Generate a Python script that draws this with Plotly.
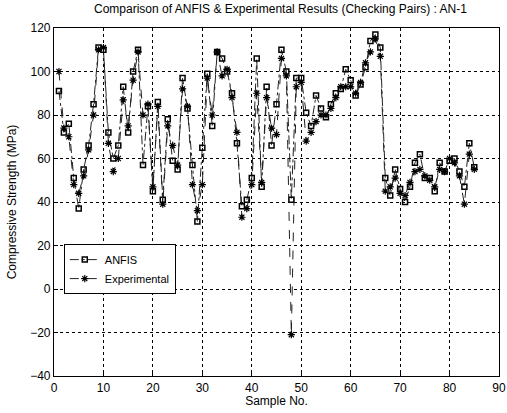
import plotly.graph_objects as go

samples = list(range(1, 86))
anfis = [91, 72, 76, 51, 37, 55, 66, 85, 111, 110,
         72, 60, 66, 93, 72, 100, 110, 57, 84, 45,
         86, 41, 78, 59, 55, 97, 83, 57, 31, 65,
         99, 75, 109, 106, 100, 90, 67, 38, 41, 51,
         106, 47, 93, 66, 85, 110, 100, 41, 97, 97,
         81, 75, 89, 83, 79, 85, 90, 92, 101, 96,
         89, 94, 102, 114, 117, 111, 51, 43, 55, 46,
         40, 47, 58, 62, 51, 51, 45, 58, 54, 59,
         60, 54, 47, 67, 56]
experimental = [100, 74, 70, 48, 44, 52, 64, 80, 110, 111,
                67, 54, 60, 87, 75, 96, 109, 80, 85, 47,
                84, 39, 75, 66, 57, 92, 84, 48, 36, 48,
                97, 80, 109, 98, 101, 88, 72, 33, 37, 48,
                90, 49, 88, 74, 71, 106, 98, -21, 93, 95,
                68, 72, 77, 80, 80, 83, 88, 93, 93, 93,
                90, 95, 104, 109, 115, 107, 45, 47, 51, 44,
                43, 49, 54, 55, 52, 50, 47, 55, 54, 60,
                58, 52, 39, 62, 55]

x_ticks = list(range(0, 91, 10))
y_ticks = list(range(-40, 121, 20))

FONT = "Liberation Sans, Arial, sans-serif"
TITLE = "Comparison of ANFIS & Experimental Results (Checking Pairs) : AN-1"

fig = go.Figure()
fig.add_trace(go.Scatter(
    x=samples, y=anfis, name="ANFIS", mode="lines+markers",
    line=dict(color="#222222", width=1, dash="dashdot"),
    marker=dict(symbol="square-open", size=5, color="black", line=dict(width=1.5, color="black")),
))
fig.add_trace(go.Scatter(
    x=samples, y=experimental, name="Experimental", mode="lines+markers",
    line=dict(color="#222222", width=1, dash="dash"),
    marker=dict(symbol="asterisk-open", size=6, color="black", line=dict(width=1.2, color="black")),
))

axis_common = dict(
    showline=True, linecolor="black", linewidth=1.2, mirror=True,
    showgrid=True, gridcolor="black", gridwidth=1, griddash="3px,3px",
    ticks="inside", ticklen=4, tickcolor="black",
    zeroline=False, automargin=False,
    tickfont=dict(family=FONT, size=12, color="black"),
)

fig.update_layout(
    width=507, height=413,
    margin=dict(l=54, r=8, t=28, b=37),
    paper_bgcolor="white", plot_bgcolor="white",
    font=dict(family=FONT, size=12, color="black"),
    xaxis=dict(range=[0, 90], tickvals=x_ticks,
               title=dict(text="Sample No.", standoff=3, font=dict(family=FONT, size=12)),
               **axis_common),
    yaxis=dict(range=[-40, 120], tickvals=y_ticks,
               title=dict(text="Compressive Strength (MPa)", standoff=10, font=dict(family=FONT, size=12)),
               **axis_common),
    legend=dict(x=0.022, y=0.379, xanchor="left", yanchor="top",
                bgcolor="white", bordercolor="black", borderwidth=1,
                font=dict(family=FONT, size=11), tracegroupgap=0,
                itemwidth=30),
    showlegend=True,
    annotations=[dict(text=TITLE, xref="paper", yref="paper", x=0.509, y=1.0,
                      xanchor="center", yanchor="bottom", yshift=10, showarrow=False,
                      font=dict(family=FONT, size=12, color="black"))],
)

fig.write_html("out.html", config={"displayModeBar": False},
               post_script="document.body.style.margin='0';")
